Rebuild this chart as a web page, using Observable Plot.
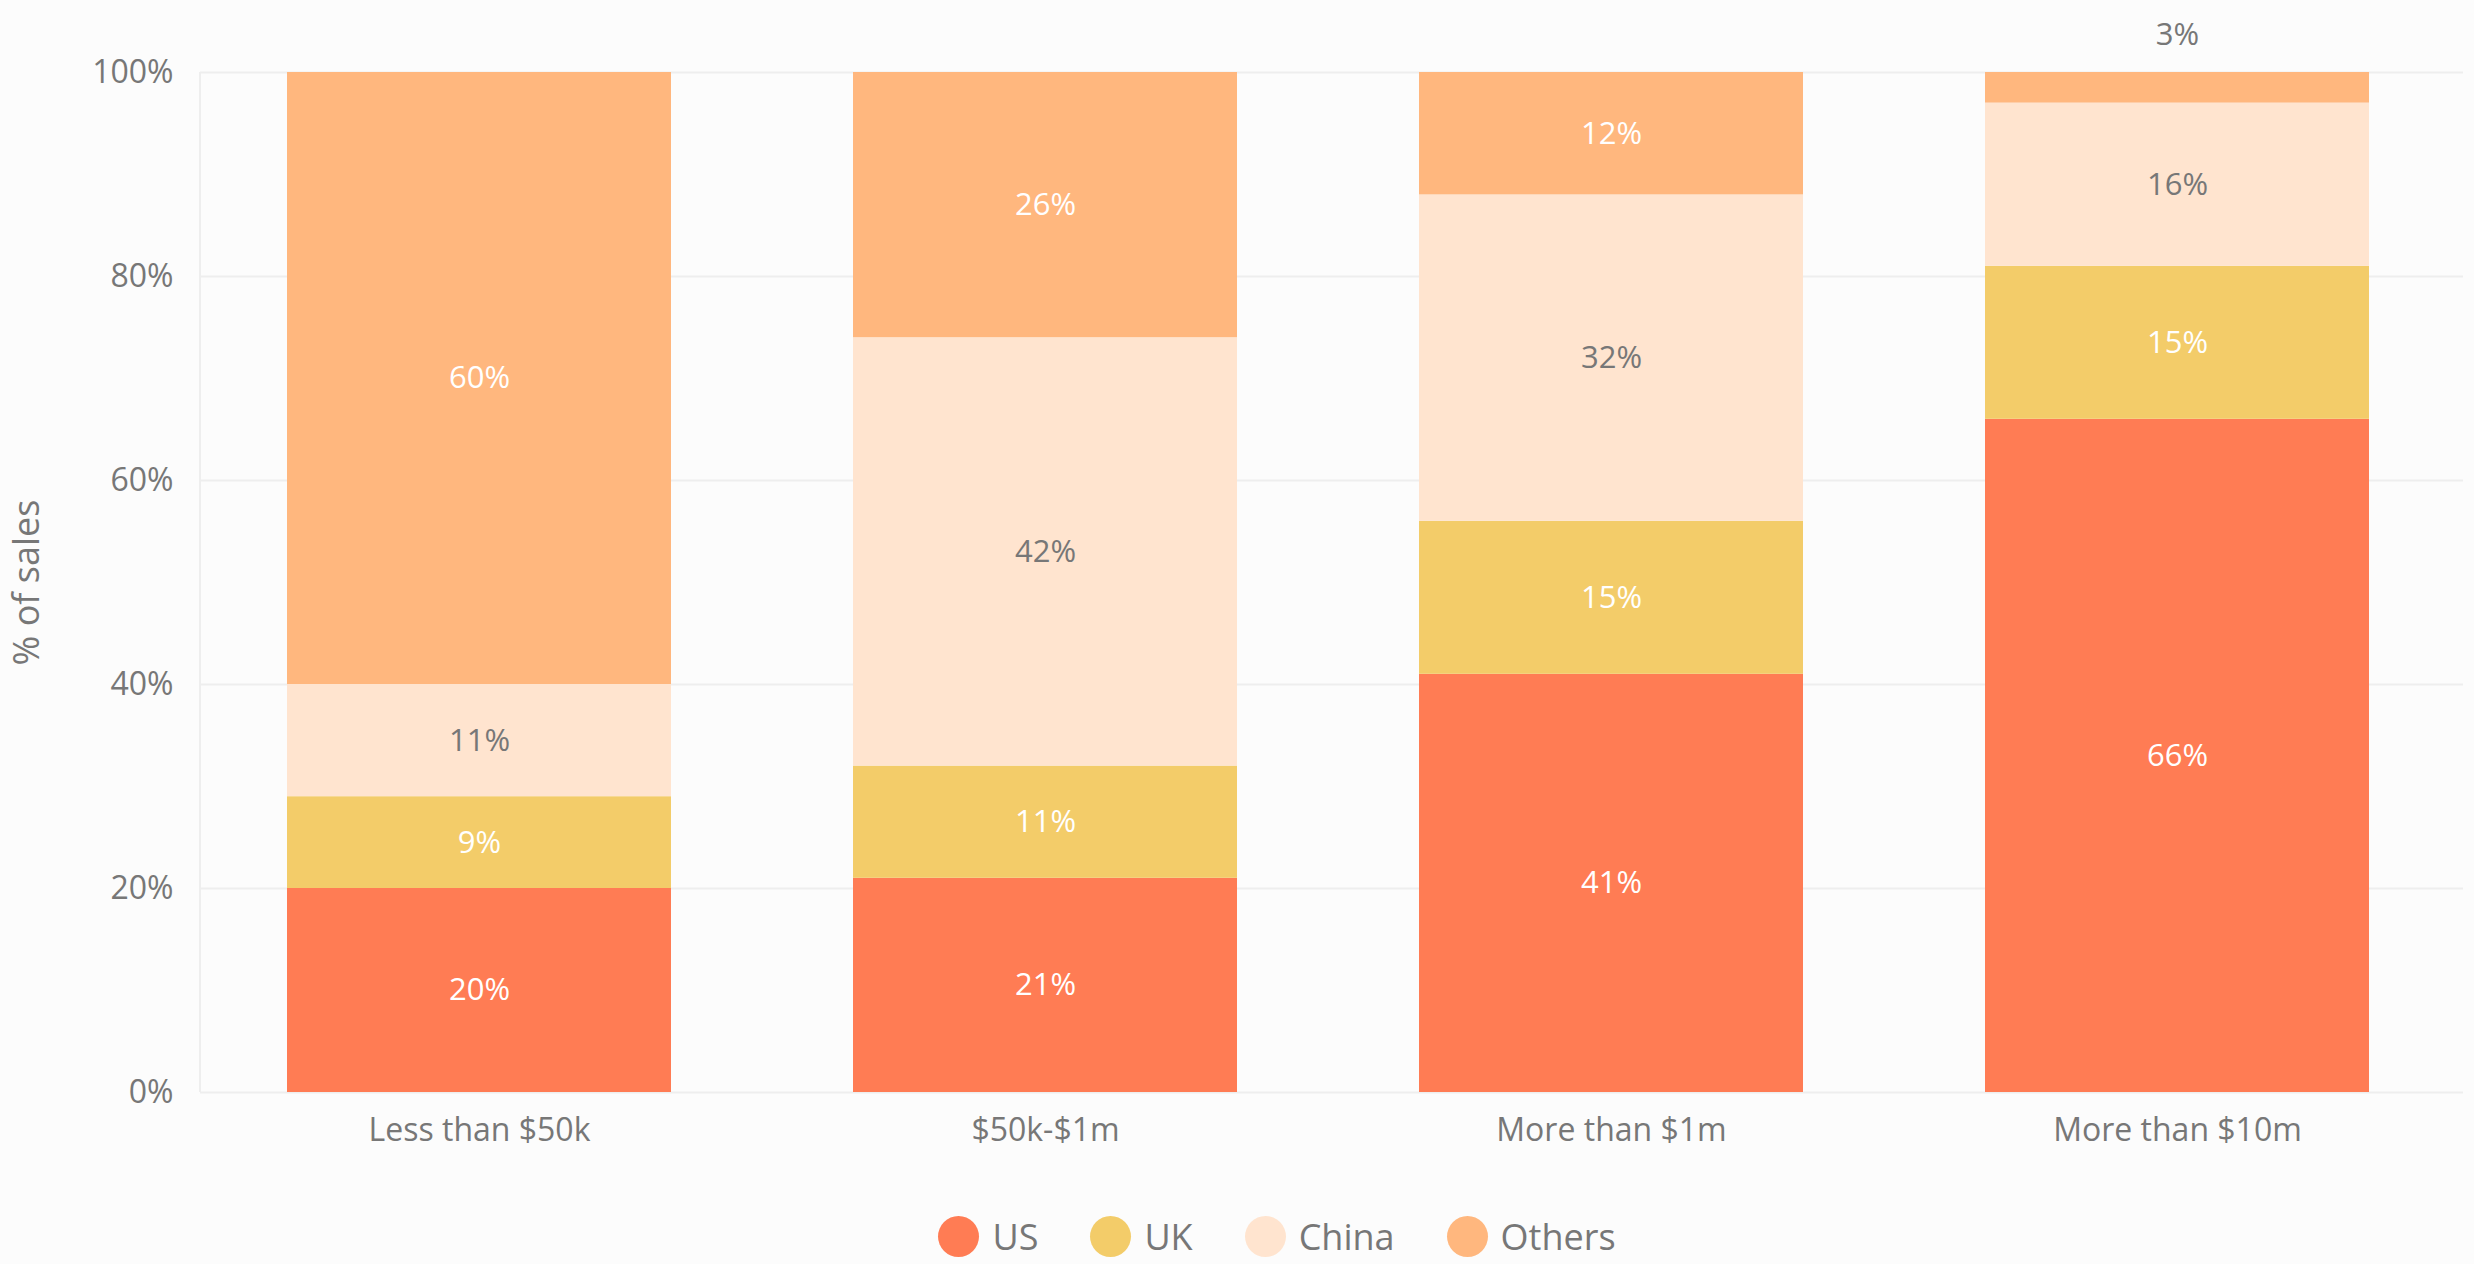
<!DOCTYPE html>
<html>
<head>
<meta charset="utf-8">
<script src="https://cdn.jsdelivr.net/npm/d3@7"></script>
<script src="https://cdn.jsdelivr.net/npm/@observablehq/plot@0.6"></script>
<style>
  html, body { margin: 0; padding: 0; background: #fcfcfc; }
  body { width: 2474px; height: 1264px; overflow: hidden; font-family: "Open Sans", sans-serif; }
  #legend { display: flex; justify-content: center; align-items: center; gap: 52px; height: 44px; margin-top: 44px; padding-left: 80px; }
  .item { display: flex; align-items: center; gap: 13px; font-size: 36px; color: #777; }
  .sw { width: 41px; height: 41px; border-radius: 50%; }
</style>
</head>
<body>
<div id="chart"></div>
<div id="legend"></div>
<script>
const categories = ["Less than $50k", "$50k-$1m", "More than $1m", "More than $10m"];
const countries = ["US", "UK", "China", "Others"];
const colors = ["#ff7c54", "#f3cc69", "#ffe4cf", "#ffb77e"];
const US = [20, 21, 41, 66];
const UK = [9, 11, 15, 15];
const China = [11, 42, 32, 16];
const Others = [60, 26, 12, 3];
const yTicks = [0, 20, 40, 60, 80, 100];

const series = {US, UK, China, Others};
const data = [];
categories.forEach((cat, i) => {
  countries.forEach(c => data.push({cat, country: c, value: series[c][i]}));
});

const fmt = d => d + "%";
const stackOpts = {x: "cat", y: "value", z: "country"};

const leftLine = (index, scales, values, dims) => {
  const g = d3.create("svg:line")
    .attr("x1", dims.marginLeft).attr("x2", dims.marginLeft)
    .attr("y1", scales.y(100)).attr("y2", scales.y(0))
    .attr("stroke", "#eeeeee").attr("stroke-width", 2);
  return g.node();
};

const chart = Plot.plot({
  width: 2474,
  height: 1170,
  marginTop: 72,
  marginBottom: 78,
  marginLeft: 200,
  marginRight: 11,
  style: {background: "transparent", fontFamily: "'Open Sans', sans-serif", fontSize: "32px", color: "#777"},
  x: {domain: categories, paddingInner: 0.322, paddingOuter: 0.159, align: 0.48, label: null, tickSize: 0, tickPadding: 26},
  y: {domain: [0, 100], ticks: yTicks, tickFormat: fmt, label: null, tickSize: 0, tickPadding: 27},
  color: {domain: countries, range: colors},
  marks: [
    Plot.ruleY(yTicks, {stroke: "#eeeeee", strokeWidth: 2}),
    leftLine,
    Plot.barY(data, {...stackOpts, fill: "country"}),
    Plot.text(data, Plot.stackY({...stackOpts, text: d => (d.country !== "China" && d.value >= 5) ? fmt(d.value) : "", fill: "white", fontSize: 31})),
    Plot.text(data, Plot.stackY({...stackOpts, text: d => (d.country === "China" && d.value >= 5) ? fmt(d.value) : "", fill: "#777", fontSize: 31})),
    Plot.text(data, Plot.stackY2({...stackOpts, text: d => d.value < 5 ? fmt(d.value) : "", fill: "#777", fontSize: 31, dy: -37})),
    Plot.text(["% of sales"], {frameAnchor: "left", textAnchor: "middle", rotate: -90, dx: -173, fill: "#777", fontSize: 36})
  ]
});
document.getElementById("chart").appendChild(chart);

const legend = document.getElementById("legend");
countries.forEach((c, i) => {
  const item = document.createElement("div");
  item.className = "item";
  const sw = document.createElement("div");
  sw.className = "sw";
  sw.style.background = colors[i];
  const t = document.createElement("span");
  t.textContent = c;
  item.appendChild(sw);
  item.appendChild(t);
  legend.appendChild(item);
});
</script>
</body>
</html>
